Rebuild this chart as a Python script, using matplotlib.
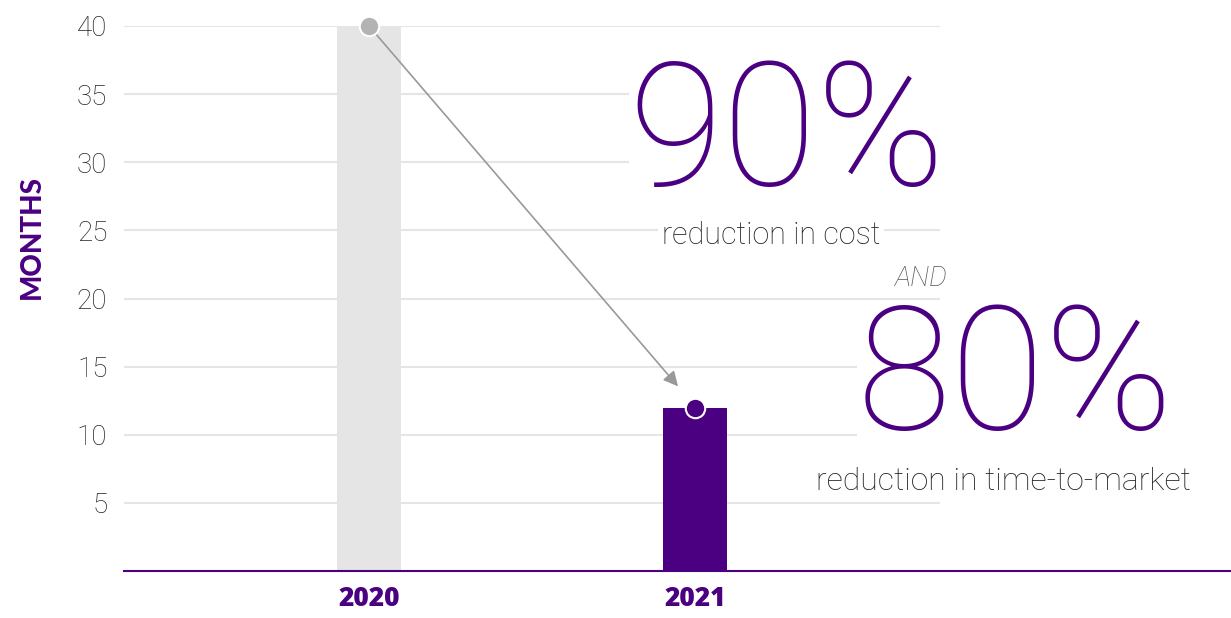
import matplotlib.pyplot as plt

# datos
years = ["2020", "2021"]
months = [40, 12]
y_ticks = [5, 10, 15, 20, 25, 30, 35, 40]
big_labels = ["90%", "80%"]
sub_labels = ["reduction in cost", "reduction in time-to-market"]

purple = "#4b0082"
light_gray = "#e5e5e5"
dot_gray = "#b3b3b3"
fuente = "Lato"
fuente_fina = "Roboto"
fuente_negrita = "Open Sans"

fig = plt.figure(figsize=(12.31, 6.18), dpi=100)
ax = fig.add_axes([124 / 1231, 47 / 618, 1 - 124 / 1231, 545 / 618])

x = list(range(len(years)))
ax.set_xlim(-0.7515, 2.644)
ax.set_ylim(0, 40)

# lineas de la grilla (terminan antes del borde derecho)
ax.hlines(y_ticks, -0.7515, 1.751, color=light_gray, lw=1.5, zorder=0)

ax.bar(x, months, width=0.196, color=[light_gray, purple], zorder=2)
ax.plot(x[0], months[0], "o", ms=14, color=dot_gray, mec="white", mew=1.5,
        zorder=5, clip_on=False)
ax.plot(x[1], months[1], "o", ms=14, color=purple, mec="white", mew=1.5,
        zorder=5, clip_on=False)

# flecha entre los dos puntos
ax.annotate("", xy=(x[1] - 0.052, months[1] + 1.55), xytext=(x[0], months[0]),
            arrowprops=dict(arrowstyle="-|>", color="#999999", lw=1.2,
                            mutation_scale=22, shrinkA=6, shrinkB=0),
            zorder=4)

# ejes
for s in ["left", "right", "top"]:
    ax.spines[s].set_visible(False)
ax.spines["bottom"].set_color(purple)
ax.spines["bottom"].set_linewidth(1.5)
ax.set_yticks(y_ticks)
ax.set_yticklabels([str(v) for v in y_ticks], fontsize=20, color="#222222",
                   fontfamily=fuente_fina, fontweight="light")
ax.tick_params(axis="y", length=0, pad=12)
ax.set_xticks(x)
ax.set_xticklabels(years, fontsize=19, color=purple, fontfamily=fuente_negrita,
                   fontweight="heavy")
ax.tick_params(axis="x", length=0, pad=11)

fig.text(32 / 1231, 1 - 237 / 618, "MONTHS", rotation=90, ha="center",
         va="center", fontsize=20, color=purple, fontfamily=fuente,
         fontweight="black")

# textos grandes
fig.text(787 / 1231, 1 - 138 / 618, big_labels[0], ha="center", va="center",
         fontsize=124, color=purple, fontfamily=fuente_fina, fontweight="light",
         bbox=dict(facecolor="white", edgecolor="none", pad=0), zorder=3)
fig.text(771 / 1231, 1 - 236 / 618, sub_labels[0], ha="center", va="center",
         fontsize=22, color="#222222", fontfamily=fuente_fina, fontweight="light",
         bbox=dict(facecolor="white", edgecolor="none", pad=3), zorder=3)
fig.text(1015 / 1231, 1 - 382 / 618, big_labels[1], ha="center", va="center",
         fontsize=124, color=purple, fontfamily=fuente_fina, fontweight="light",
         bbox=dict(facecolor="white", edgecolor="none", pad=0), zorder=3)
fig.text(921 / 1231, 1 - 279 / 618, "AND", ha="center", va="center",
         fontsize=20, color="#555555", fontfamily=fuente_fina, fontweight="light",
         style="italic", zorder=6)
fig.text(1003 / 1231, 1 - 481 / 618, sub_labels[1], ha="center", va="center",
         fontsize=23, color="#222222", fontfamily=fuente_fina, fontweight="light",
         bbox=dict(facecolor="white", edgecolor="none", pad=2), zorder=3)

fig.savefig("out.png", dpi=100)
